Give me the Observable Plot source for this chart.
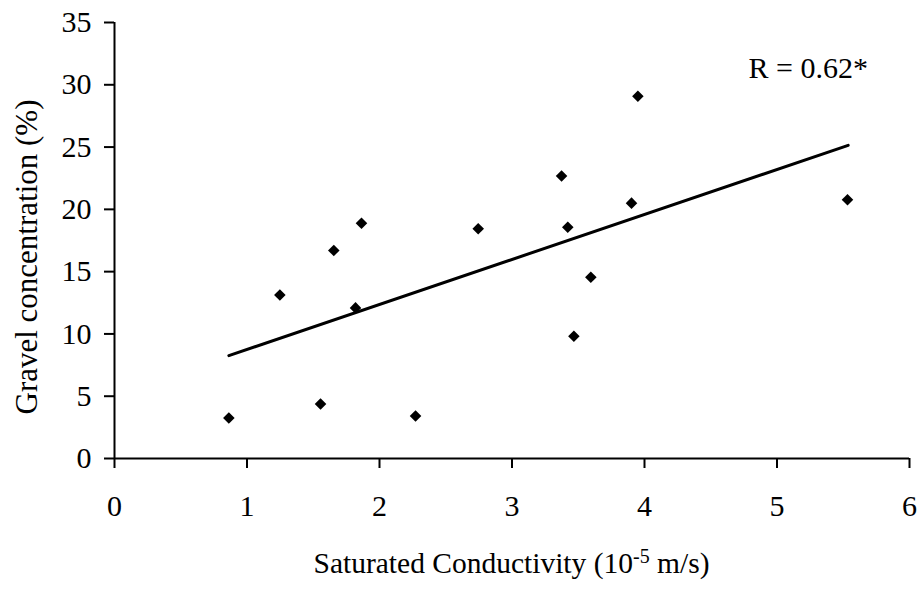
<!DOCTYPE html>
<html><head><meta charset="utf-8">
<script src="https://cdn.jsdelivr.net/npm/d3@7"></script>
<script src="https://cdn.jsdelivr.net/npm/@observablehq/plot@0.6"></script>
<style>body{margin:0;background:#fff}</style>
</head><body><div id="chart"></div>
<script>
const conductivity = [0.863, 1.248, 1.555, 1.655, 1.819, 1.864, 2.272, 2.745, 3.374, 3.421, 3.467, 3.595, 3.902, 3.950, 5.532];
const gravel = [3.25, 13.13, 4.37, 16.70, 12.09, 18.89, 3.41, 18.44, 22.67, 18.57, 9.81, 14.55, 20.50, 29.08, 20.77];
const trendX = [0.863, 5.537];
const trendY = [8.26, 25.14];
const xTicks = [0, 1, 2, 3, 4, 5, 6];
const yTicks = [0, 5, 10, 15, 20, 25, 30, 35];
const annotation = ["R = 0.62*"];
const annotationX = [4.785];
const annotationY = [31.3];
const yLabel = "Gravel concentration (%)";
const xLabelParts = ["Saturated Conductivity (10", "-5", " m/s)"];

const W = 917, H = 589;
const mL = 114, mR = 8, mT = 22, mB = 131;
const FONT = "Liberation Serif";

const points = conductivity.map((x, i) => ({x, y: gravel[i]}));
const trend = trendX.map((x, i) => ({x, y: trendY[i]}));

const chart = Plot.plot({
  width: W, height: H,
  marginLeft: mL, marginRight: mR, marginTop: mT, marginBottom: mB,
  style: {fontFamily: FONT, fontSize: "30px", color: "black", background: "white"},
  x: {domain: [0, 6], axis: null},
  y: {domain: [0, 35], axis: null},
  marks: [
    Plot.axisX({ticks: xTicks, tickSize: 10, strokeWidth: 2, label: null, tickFormat: () => ""}),
    Plot.axisY({ticks: yTicks, tickSize: 10, strokeWidth: 2, label: null, tickFormat: () => ""}),
    Plot.text(xTicks, {x: d => d, frameAnchor: "bottom", text: d => String(d), lineAnchor: "top", textAnchor: "middle", dy: 36, fontSize: 30, fontFamily: FONT, fill: "black"}),
    Plot.text(yTicks, {y: d => d, frameAnchor: "left", text: d => String(d), lineAnchor: "middle", textAnchor: "end", dx: -23, fontSize: 30, fontFamily: FONT, fill: "black"}),
    Plot.ruleY([0], {stroke: "black", strokeWidth: 2}),
    Plot.ruleX([0], {stroke: "black", strokeWidth: 2}),
    Plot.line(trend, {x: "x", y: "y", stroke: "black", strokeWidth: 3}),
    Plot.dot(points, {x: "x", y: "y", symbol: "diamond2", r: 5.2, fill: "black", stroke: "none"}),
    Plot.text(annotation, {x: (d, i) => annotationX[i], y: (d, i) => annotationY[i], text: d => d, textAnchor: "start", fontSize: 30, fontFamily: FONT, fill: "black"})
  ]
});

const svg = d3.select(chart);
const cx = mL + (W - mL - mR) / 2;
const xl = svg.append("text")
  .attr("x", cx).attr("y", 573)
  .attr("text-anchor", "middle")
  .attr("font-family", FONT)
  .attr("font-size", 29.5)
  .attr("fill", "black");
xl.append("tspan").text(xLabelParts[0]);
xl.append("tspan").attr("dy", -10).attr("font-size", 20).text(xLabelParts[1]);
xl.append("tspan").attr("dy", 10).text(xLabelParts[2]);

svg.append("text")
  .attr("transform", `translate(37,257) rotate(-90)`)
  .attr("text-anchor", "middle")
  .attr("font-family", FONT)
  .attr("font-size", 31)
  .attr("fill", "black")
  .text(yLabel);

document.getElementById("chart").appendChild(chart);
</script>
</body></html>
